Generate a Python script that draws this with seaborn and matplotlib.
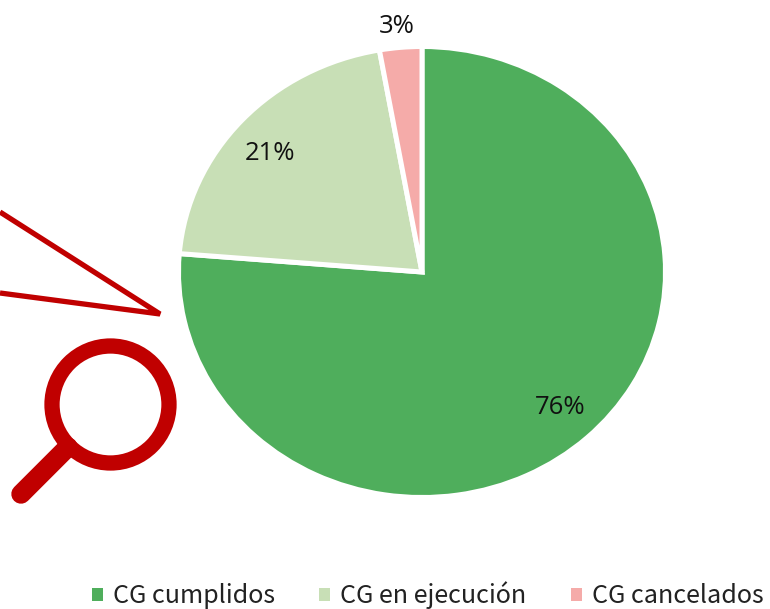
import matplotlib
matplotlib.use("Agg")
import matplotlib.pyplot as plt
from matplotlib.patches import Circle, Rectangle
import seaborn as sns

categories = ["CG cumplidos", "CG en ejecución", "CG cancelados"]
values = [76.3, 20.9, 2.8]
colors = ["#4FAE5C", "#C8DFB6", "#F5ABA9"]
label_pos = [(0.566, -0.600), (-0.625, 0.524), (-0.104, 1.090)]

sns.set_theme(style="white")
plt.rcParams["font.family"] = ["Noto Sans CJK KR", "DejaVu Sans"]
W, H = 770, 609
fig = plt.figure(figsize=(W / 100, H / 100), dpi=100, facecolor="white")

# The reference pie is stretched: about 484 px wide and 448 px tall
ax = fig.add_axes([178.5 / W, (H - 497.5) / H, 487 / W, 451 / H])
wedges, _, autotexts = ax.pie(
    values, colors=sns.color_palette(colors), startangle=90, counterclock=False,
    autopct=lambda p: f"{p:.0f}%", radius=1,
    wedgeprops=dict(edgecolor="white", linewidth=3.6),
    textprops=dict(color="#111111", fontsize=18.5),
)
for t, p in zip(autotexts, label_pos):
    t.set_position(p)
    t.set_fontfamily(["Open Sans", "DejaVu Sans"])
ax.set_aspect("auto")
ax.set_xlim(-1, 1)
ax.set_ylim(-1, 1)

leg = fig.legend(
    wedges, categories, loc="lower left", bbox_to_anchor=(92 / W, 0 / H), ncol=3,
    frameon=False, fontsize=18.1, handlelength=0.42, handleheight=0.42,
    handletextpad=0.40, columnspacing=1.78, borderpad=0, borderaxespad=0,
    labelcolor="#222222",
)
for h in leg.legend_handles:
    h.set_linewidth(0)

# Callout lines and magnifying glass, in pixel coordinates
ov = fig.add_axes([0, 0, 1, 1], facecolor="none")
ov.set_xlim(0, W)
ov.set_ylim(H, 0)
ov.axis("off")
red = "#C00000"
ov.plot([0, 160, 0], [212, 314, 293], color=red, lw=3.8,
        solid_joinstyle="bevel", solid_capstyle="butt")
ov.add_patch(Circle((110.5, 404.5), 58.5, fill=False, ec=red, lw=11))
handle, = ov.plot([68, 21], [447, 494], color=red, lw=14, solid_capstyle="round")
handle.set_clip_path(Rectangle((0, 0), W, 505, transform=ov.transData))

fig.savefig("out.png", dpi=100)
